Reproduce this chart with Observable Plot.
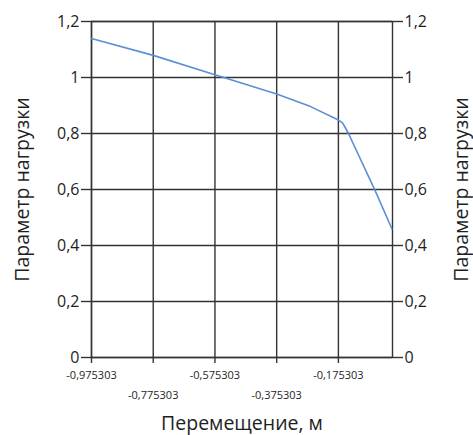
<!DOCTYPE html>
<html><head><meta charset="utf-8">
<script src="https://cdn.jsdelivr.net/npm/d3@7"></script>
<script src="https://cdn.jsdelivr.net/npm/@observablehq/plot@0.6"></script>
<style>body{margin:0;background:#fff}</style>
</head><body><div id="chart"></div>
<script>
const displacement = [-0.975303, -0.7753, -0.5753, -0.3753, -0.2653, -0.1753, -0.162, -0.155, -0.1426, -0.0563, -0.002];
const load = [1.139, 1.079, 1.010, 0.941, 0.896, 0.848, 0.838, 0.825, 0.80, 0.596, 0.46];
const xTicksRow1 = [-0.975303, -0.575303, -0.175303];
const xTicksRow2 = [-0.775303, -0.375303];
const yTicks = [0, 0.2, 0.4, 0.6, 0.8, 1, 1.2];
const xTitle = "Перемещение, м";
const yTitle = "Параметр нагрузки";

const data = displacement.map((x, i) => ({x, y: load[i]}));
const allX = [...xTicksRow1, ...xTicksRow2];
const fmtX = d => String(d).replace(".", ",");
const fmtY = d => String(+d.toFixed(1)).replace(".", ",");
const ink = "#1e1e1e";
const gridCol = "#333";

const chart = Plot.plot({
  width: 473, height: 435,
  marginLeft: 91, marginRight: 81, marginTop: 21, marginBottom: 78,
  style: {fontFamily: "'Open Sans', sans-serif", color: ink, background: "#fff"},
  x: {domain: [-0.975303, 0]},
  y: {domain: [0, 1.2]},
  marks: [
    Plot.gridX(allX, {stroke: gridCol, strokeOpacity: 1, strokeWidth: 1.4}),
    Plot.gridY(yTicks, {stroke: gridCol, strokeOpacity: 1, strokeWidth: 1.4}),
    Plot.frame({stroke: gridCol, strokeWidth: 1.4}),
    Plot.line(data, {x: "x", y: "y", stroke: "#5b8fd6", strokeWidth: 1.6}),
    Plot.axisX(allX, {tickSize: 6, tickFormat: () => "", label: null, stroke: gridCol, strokeWidth: 1.4}),
    Plot.axisX(xTicksRow1, {tickSize: 0, tickPadding: 14, tickFormat: fmtX, fontSize: 11, label: null, fill: ink}),
    Plot.axisX(xTicksRow2, {tickSize: 0, tickPadding: 34, tickFormat: fmtX, fontSize: 11, label: null, fill: ink}),
    Plot.axisY(yTicks, {anchor: "left", tickSize: 10, tickPadding: 2, tickFormat: fmtY, fontSize: 16, label: null, stroke: gridCol, strokeWidth: 1.4, fill: ink}),
    Plot.axisY(yTicks, {anchor: "right", tickSize: 10, tickPadding: 2, tickFormat: fmtY, fontSize: 16, label: null, stroke: gridCol, strokeWidth: 1.4, fill: ink}),
    Plot.text([xTitle], {text: d => d, frameAnchor: "bottom", dy: 66, fontSize: 19.5, lineAnchor: "middle", textAnchor: "middle", fill: ink}),
    Plot.text([yTitle], {text: d => d, frameAnchor: "left", dx: -69, rotate: -90, fontSize: 19.5, lineAnchor: "middle", textAnchor: "middle", fill: ink}),
    Plot.text([yTitle], {text: d => d, frameAnchor: "right", dx: 69, rotate: -90, fontSize: 19.5, lineAnchor: "middle", textAnchor: "middle", fill: ink})
  ]
});
document.getElementById("chart").appendChild(chart);
</script>
</body></html>
